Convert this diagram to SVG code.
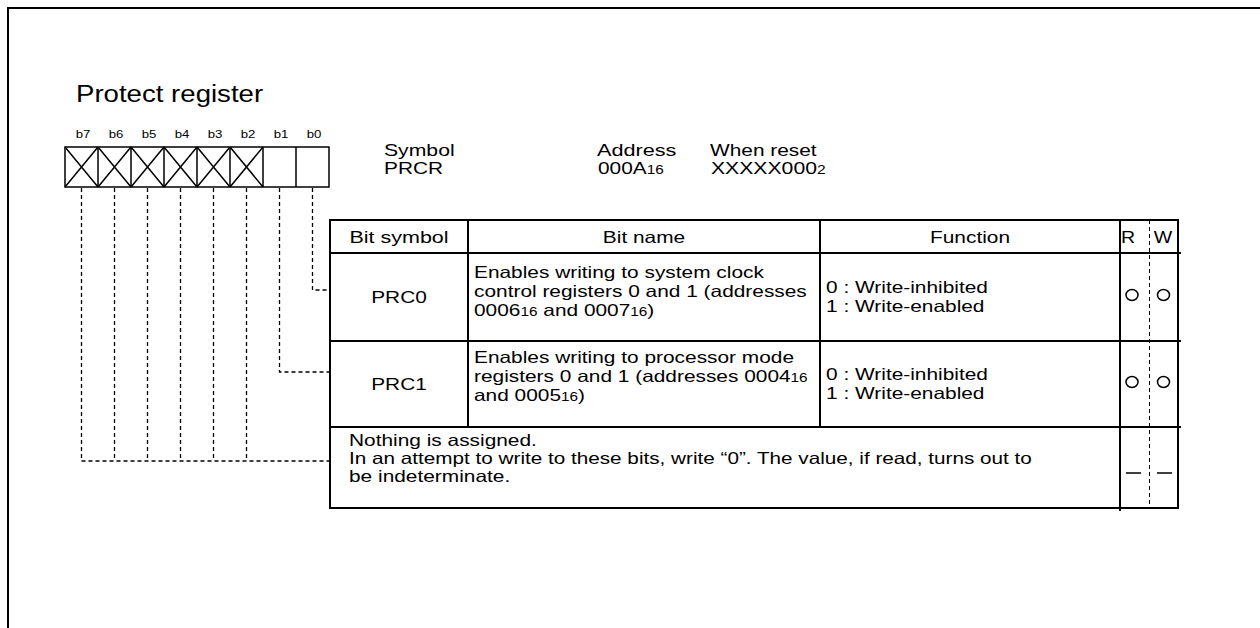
<svg xmlns="http://www.w3.org/2000/svg" width="1260" height="628" viewBox="0 0 1260 628">
<style>
text{font-family:"Liberation Sans",Arial,sans-serif;fill:#000}
.t{font-size:16.3px}
.s{font-size:12px}
.b{font-size:11px}
.ln{stroke:#000;stroke-width:2;fill:none}
.th{stroke:#000;stroke-width:1.5;fill:none}
.d{stroke:#000;stroke-width:1.3;fill:none;stroke-dasharray:4 3}
.dt{stroke:#000;stroke-width:1;fill:none;stroke-dasharray:4 3}
</style>
<rect width="1260" height="628" fill="#fff"/>
<path class="ln" d="M8,628 V8 H1260"/>
<text transform="translate(76,102) scale(1.15,1)" style="font-size:24px">Protect register</text>

<g id="register">
<g class="b" text-anchor="middle">
<text transform="translate(83,138) scale(1.2,1)">b7</text><text transform="translate(116,138) scale(1.2,1)">b6</text>
<text transform="translate(149,138) scale(1.2,1)">b5</text><text transform="translate(182,138) scale(1.2,1)">b4</text>
<text transform="translate(215,138) scale(1.2,1)">b3</text><text transform="translate(248,138) scale(1.2,1)">b2</text>
<text transform="translate(281,138) scale(1.2,1)">b1</text><text transform="translate(314,138) scale(1.2,1)">b0</text>
</g>
<rect class="th" x="65" y="147" width="264" height="40"/>
<path class="th" d="M98,147V187M131,147V187M164,147V187M197,147V187M230,147V187M263,147V187M296,147V187"/>
<path class="th" d="M65,147L98,187M98,147L65,187M98,147L131,187M131,147L98,187M131,147L164,187M164,147L131,187M164,147L197,187M197,147L164,187M197,147L230,187M230,147L197,187M230,147L263,187M263,147L230,187"/>
</g>

<g id="info" class="t">
<text transform="translate(384,156) scale(1.3,1)">Symbol</text>
<text transform="translate(384,174) scale(1.28,1)">PRCR</text>
<text transform="translate(597,156) scale(1.33,1)">Address</text>
<text transform="translate(598,174) scale(1.28,1)">000A<tspan class="s">16</tspan></text>
<text transform="translate(710,156) scale(1.28,1)">When reset</text>
<text transform="translate(711,174) scale(1.3,1)">XXXXX000<tspan class="s">2</tspan></text>
</g>

<g id="connectors">
<path class="d" d="M312.5,188V290H330"/>
<path class="d" d="M279.5,188V372H330"/>
<path class="d" d="M81.5,188V461H330M114.5,188V461M147.5,188V461M180.5,188V461M213.5,188V461M246.5,188V461"/>
</g>

<g id="table">
<rect class="ln" x="330" y="220" width="848" height="288"/>
<path class="ln" d="M330,253H1181M330,341H1181M330,427H1181M468,220V427M820,220V427M1120,220V511"/>
<path class="dt" d="M1149.5,220V508"/>
<g class="t" text-anchor="middle">
<text transform="translate(399,243) scale(1.32,1)">Bit symbol</text>
<text transform="translate(644,243) scale(1.28,1)">Bit name</text>
<text transform="translate(970,243) scale(1.28,1)">Function</text>
<text transform="translate(1128,243) scale(1.2,1)">R</text>
<text transform="translate(1163,243) scale(1.2,1)">W</text>
</g>
</g>

<g id="row-prc0" class="t">
<text transform="translate(399,303) scale(1.28,1)" text-anchor="middle">PRC0</text>
<text transform="translate(474,278) scale(1.28,1)">Enables writing to system clock</text>
<text transform="translate(474,297) scale(1.28,1)">control registers 0 and 1 (addresses</text>
<text transform="translate(474,316) scale(1.28,1)">0006<tspan class="s">16</tspan> and 0007<tspan class="s">16</tspan>)</text>
<text transform="translate(826,293) scale(1.28,1)">0 : Write-inhibited</text>
<text transform="translate(826,312) scale(1.28,1)">1 : Write-enabled</text>
<ellipse cx="1132" cy="295" rx="6" ry="5.5" class="th"/><ellipse cx="1163.5" cy="295" rx="6" ry="5.5" class="th"/>
</g>

<g id="row-prc1" class="t">
<text transform="translate(399,390) scale(1.28,1)" text-anchor="middle">PRC1</text>
<text transform="translate(474,363) scale(1.28,1)">Enables writing to processor mode</text>
<text transform="translate(474,382) scale(1.28,1)">registers 0 and 1 (addresses 0004<tspan class="s">16</tspan></text>
<text transform="translate(474,401) scale(1.28,1)">and 0005<tspan class="s">16</tspan>)</text>
<text transform="translate(826,380) scale(1.28,1)">0 : Write-inhibited</text>
<text transform="translate(826,399) scale(1.28,1)">1 : Write-enabled</text>
<ellipse cx="1132" cy="382" rx="6" ry="5.5" class="th"/><ellipse cx="1163.5" cy="382" rx="6" ry="5.5" class="th"/>
</g>

<g id="row-reserved" class="t">
<text transform="translate(349,446) scale(1.28,1)">Nothing is assigned.</text>
<text transform="translate(349,464) scale(1.27,1)">In an attempt to write to these bits, write “0”. The value, if read, turns out to</text>
<text transform="translate(349,482) scale(1.28,1)">be indeterminate.</text>
<path class="th" d="M1126,473H1141M1157,473H1172"/>
</g>
</svg>
